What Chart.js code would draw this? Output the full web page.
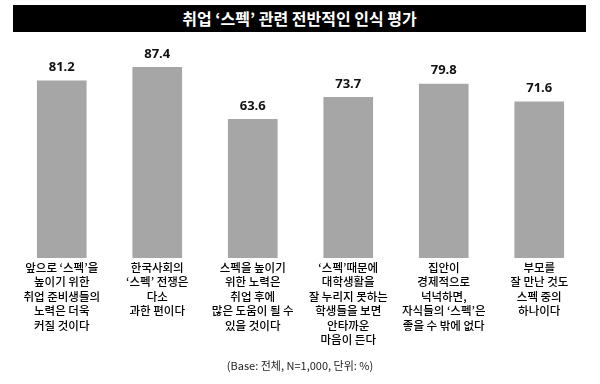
<!DOCTYPE html>
<html>
<head>
<meta charset="utf-8">
<script src="https://cdn.jsdelivr.net/npm/chart.js@4/dist/chart.umd.min.js"></script>
<style>
  html, body { margin: 0; padding: 0; background: #fff; }
  #wrap { position: relative; width: 600px; height: 384px; }
  #chart { position: absolute; left: 0; top: 0; }
  #title {
    position: absolute; left: 13px; top: 5px; width: 573px; height: 27px;
    background: #000; color: #fff; text-align: center;
    font: bold 16px "Noto Sans CJK KR", sans-serif; line-height: 27px;
  }
  #foot {
    position: absolute; left: 0; top: 356px; width: 600px; text-align: center;
    font: 11px "Noto Sans CJK KR", sans-serif; color: #222; line-height: 18px;
  }
</style>
</head>
<body>
<div id="wrap">
  <canvas id="chart" width="600" height="384"></canvas>
  <div id="title">취업 ‘스펙’ 관련 전반적인 인식 평가</div>
  <div id="foot">(Base: 전체, N=1,000, 단위: %)</div>
</div>
<script>
const categories = [
  ["앞으로 ‘스펙’을", "높이기 위한", "취업 준비생들의", "노력은 더욱", "커질 것이다"],
  ["한국사회의", "‘스펙’ 전쟁은", "다소", "과한 편이다"],
  ["스펙을 높이기", "위한 노력은", "취업 후에", "많은 도움이 될 수", "있을 것이다"],
  ["‘스펙’때문에", "대학생활을", "잘 누리지 못하는", "학생들을 보면", "안타까운", "마음이 든다"],
  ["집안이", "경제적으로", "넉넉하면,", "자식들의 ‘스펙’은", "좋을 수 밖에 없다"],
  ["부모를", "잘 만난 것도", "스펙 중의", "하나이다"]
];
const values = [81.2, 87.4, 63.6, 73.7, 79.8, 71.6];

const valueLabels = {
  id: 'valueLabels',
  afterDatasetsDraw(chart) {
    const ctx = chart.ctx;
    const meta = chart.getDatasetMeta(0);
    ctx.save();
    ctx.font = 'bold 13px "Open Sans", sans-serif';
    ctx.fillStyle = '#111';
    ctx.textAlign = 'center';
    ctx.textBaseline = 'middle';
    meta.data.forEach((bar, i) => {
      ctx.fillText(values[i].toFixed(1), bar.x, bar.y - 13);
    });
    ctx.restore();
  }
};

new Chart(document.getElementById('chart'), {
  type: 'bar',
  data: {
    labels: categories,
    datasets: [{
      data: values,
      backgroundColor: '#a6a6a6',
      borderWidth: 0,
      barPercentage: 0.52,
      categoryPercentage: 1.0
    }]
  },
  options: {
    responsive: false,
    animation: false,
    devicePixelRatio: 1,
    layout: { padding: { left: 14, right: 13, top: 39.5, bottom: 0 } },
    plugins: { legend: { display: false }, tooltip: { enabled: false }, title: { display: false } },
    scales: {
      x: {
        grid: { display: false, drawTicks: false },
        border: { display: false },
        afterFit(scale) { scale.height = 126; },
        ticks: {
          padding: 2,
          maxRotation: 0,
          autoSkip: false,
          color: '#000',
          font: { family: '"Noto Sans CJK KR", sans-serif', size: 11.5, weight: '500', lineHeight: 1.26 }
        }
      },
      y: {
        display: false,
        min: 0,
        max: 100
      }
    }
  },
  plugins: [valueLabels]
});
</script>
</body>
</html>
